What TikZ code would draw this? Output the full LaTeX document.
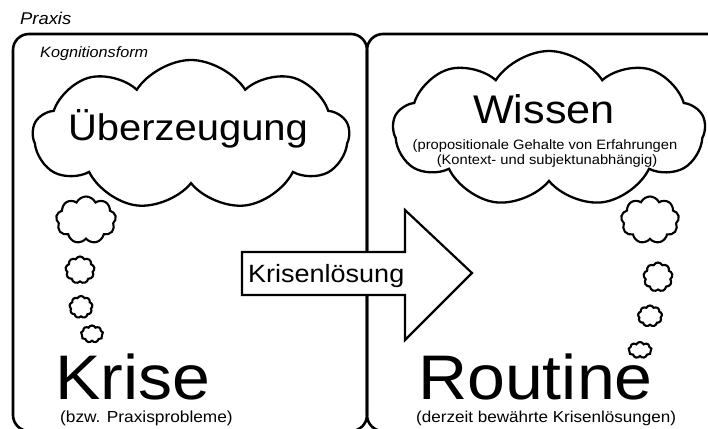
\documentclass[tikz,border=0pt]{standalone}
\usepackage{fontspec}
\setmainfont[FakeStretch=1.08]{Liberation Sans}
\usetikzlibrary{shapes.symbols}
\tikzset{
  panel/.style={draw=black, line width=2.6pt, rounded corners=16pt},
  bigcloud/.style={cloud, draw=black, fill=white, line width=2.3pt, cloud puffs=9, cloud puff arc=115, cloud ignores aspect, inner sep=0pt},
  smallcloud/.style={cloud, draw=black, fill=white, line width=2.1pt, cloud puffs=9, cloud puff arc=130, cloud ignores aspect, inner sep=0pt},
  lbl/.style={inner sep=0pt, anchor=base west},
  arrowline/.style={draw=black, fill=white, line width=2.2pt, line join=miter},
}
\newcommand{\fs}[1]{\fontsize{#1}{#1}\selectfont}
\begin{document}
\begin{tikzpicture}[x=1pt,y=-1pt]
\useasboundingbox (0,0) rectangle (708,428);
\clip (0,0) rectangle (708,428);
\fill[white] (0,0) rectangle (708,428);

% panels
\draw[panel] (13,34) rectangle (367,431);
\draw[panel] (367,34) rectangle (726,431);

% labels
\node[lbl, font=\fs{17}\itshape] (praxis) at (20,25) {Praxis};
\node[lbl, font=\fs{15}\itshape] (kog) at (40,57) {Kognitionsform};

% big clouds
\node[bigcloud, minimum width=316pt, minimum height=150pt] (c1) at (191,135) {};
\node[bigcloud, minimum width=312pt, minimum height=156pt] (c2) at (549,129) {};
\node[inner sep=0pt, anchor=base, font=\fs{37}] (ueb) at (188,140) {Überzeugung};
\node[inner sep=0pt, anchor=base, font=\fs{40}] (wis) at (544,123) {Wissen};
\node[inner sep=0pt, anchor=base, font=\fs{13.6}] (w1) at (545,149) {(propositionale Gehalte von Erfahrungen};
\node[inner sep=0pt, anchor=base, font=\fs{13.6}] (w2) at (547,164) {(Kontext- und subjektunabhängig)};

% small clouds left
\node[smallcloud, minimum width=60pt, minimum height=47pt] (l1) at (86,220) {};
\node[smallcloud, minimum width=29pt, minimum height=27pt] (l2) at (80,270) {};
\node[smallcloud, minimum width=23pt, minimum height=22pt] (l3) at (81,307) {};
\node[smallcloud, minimum width=22pt, minimum height=17pt] (l4) at (92,334) {};

% small clouds right
\node[smallcloud, minimum width=58pt, minimum height=47pt] (r1) at (650,220) {};
\node[smallcloud, minimum width=29pt, minimum height=29pt] (r2) at (658,277) {};
\node[smallcloud, minimum width=24pt, minimum height=21pt] (r3) at (650,316) {};
\node[smallcloud, minimum width=23pt, minimum height=16pt] (r4) at (640,350) {};

% arrow
\coordinate (a1) at (242,252);
\coordinate (a2) at (405,252);
\coordinate (a3) at (405,210);
\coordinate (a4) at (472,273);
\coordinate (a5) at (405,340);
\coordinate (a6) at (405,295);
\coordinate (a7) at (242,295);
\draw[arrowline] (a1) -- (a2) -- (a3) -- (a4) -- (a5) -- (a6) -- (a7) -- cycle;
\node[lbl, font=\fs{25}] (kl) at (248,282) {Krisenlösung};

% bottom words
\node[lbl, font=\fs{63}, text depth=0pt] (krise) at (55,399) {Krise};
\node[lbl, font=\fs{16}] (bzw) at (60,422) {(bzw. Praxisprobleme)};
\node[lbl, font=\fs{63}, text depth=0pt] (routine) at (418,399) {Routine};
\node[lbl, font=\fs{15.8}] (derz) at (416,422) {(derzeit bewährte Krisenlösungen)};
\end{tikzpicture}
\end{document}
